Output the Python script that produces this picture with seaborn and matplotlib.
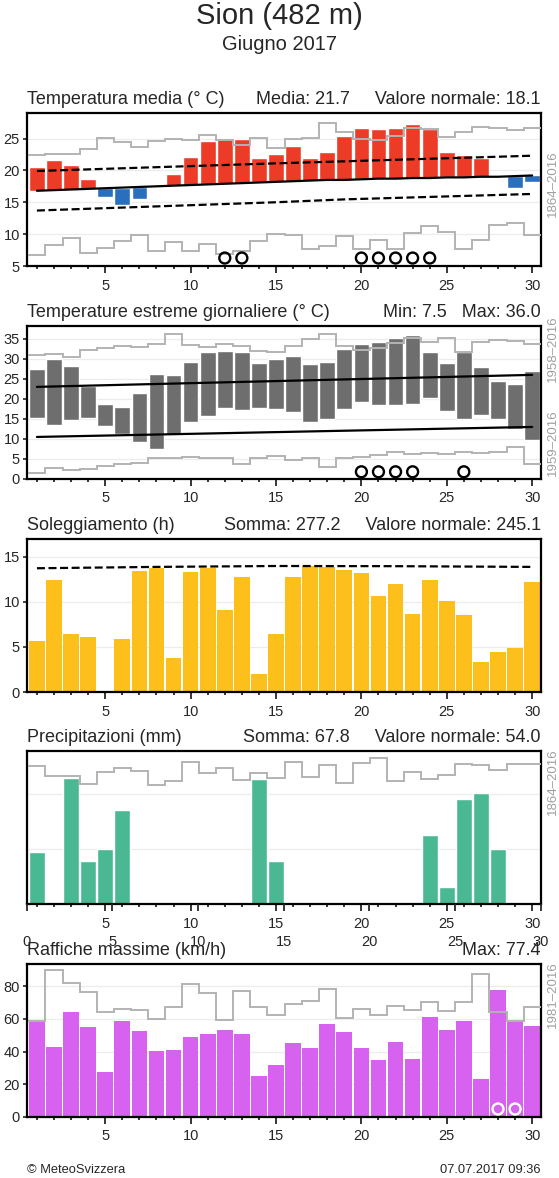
import matplotlib
matplotlib.use("Agg")
import matplotlib.pyplot as plt
import numpy as np
import seaborn as sns

days = np.arange(1, 31)
stair_edges = np.arange(0.5, 31.5)

# temperatura media (°C)
t_mean = [20.5, 21.6, 20.8, 18.6, 15.8, 14.5, 15.5, 17.5, 19.5, 22.1,
          24.6, 24.9, 25.0, 21.9, 22.5, 23.8, 21.9, 22.9, 25.4, 26.7,
          26.5, 26.7, 27.2, 26.5, 22.9, 22.4, 22.0, 19.1, 17.3, 18.1]
t_norm = [16.8, 16.9, 17.0, 17.1, 17.2, 17.3, 17.4, 17.5, 17.6, 17.7,
          17.8, 17.9, 18.0, 18.1, 18.2, 18.3, 18.4, 18.5, 18.5, 18.6,
          18.7, 18.7, 18.8, 18.8, 18.9, 18.9, 19.0, 19.0, 19.1, 19.2]
t_hi_days = [1, 15, 30]
t_hi = [19.9, 21.1, 22.3]
t_lo_days = [1, 15, 19, 30]
t_lo = [13.7, 15.0, 15.45, 16.3]
t_rec_max = [22.4, 22.5, 22.6, 23.4, 25.1, 24.5, 23.6, 24.6, 25.0, 24.8,
             25.6, 24.8, 24.0, 25.1, 23.5, 25.0, 25.1, 27.5, 26.0, 25.0,
             24.7, 25.4, 26.7, 26.5, 25.3, 26.0, 26.8, 26.6, 26.3, 26.6]
t_rec_min = [6.7, 8.3, 9.4, 7.0, 7.8, 9.0, 9.9, 7.4, 8.75, 7.3,
             8.5, 6.9, 7.3, 9.0, 10.0, 9.8, 7.7, 8.1, 9.7, 7.7,
             9.1, 7.6, 10.2, 11.2, 10.4, 7.6, 9.1, 11.5, 11.7, 9.9]
t_mean_marks = [12, 13, 20, 21, 22, 23, 24]

# temperature estreme
t_max = [27.4, 29.9, 28.3, 23.25, 18.7, 18.0, 21.4, 26.3, 26.0, 29.3,
         31.8, 31.9, 31.7, 28.9, 30.0, 30.6, 28.8, 29.25, 32.5, 33.7,
         34.3, 35.1, 36.0, 31.8, 28.9, 31.6, 28.0, 24.5, 23.7, 27.0]
t_min = [15.3, 13.4, 14.8, 15.3, 13.25, 11.3, 9.2, 7.5, 11.2, 14.3,
         15.75, 17.7, 17.2, 17.7, 17.4, 16.75, 14.3, 14.9, 17.4, 19.25,
         18.4, 18.6, 18.8, 20.25, 16.9, 15.1, 16.0, 15.0, 12.6, 9.8]
norm_days = [1, 30]
tmax_norm = [23.0, 26.0]
tmin_norm = [10.5, 13.0]
tx_rec = [30.9, 31.3, 30.5, 32.2, 32.7, 33.25, 33.0, 33.7, 36.3, 33.5,
          33.0, 33.7, 33.1, 32.0, 31.7, 33.2, 34.9, 36.3, 33.2, 32.2,
          32.7, 34.0, 35.3, 34.3, 35.2, 31.8, 34.3, 34.75, 34.5, 33.8]
tn_rec = [1.4, 2.7, 2.25, 2.6, 3.25, 3.7, 4.1, 5.2, 5.3, 5.5,
          5.3, 5.3, 3.8, 5.2, 5.8, 4.7, 5.3, 3.0, 5.3, 5.5,
          6.0, 6.75, 6.3, 6.6, 6.3, 6.8, 6.4, 6.75, 8.1, 3.8]
t_ext_marks = [20, 21, 22, 23, 26]

# soleggiamento (h)
sun = [5.7, 12.4, 6.5, 6.1, 0.0, 5.9, 13.4, 13.75, 3.75, 13.3,
       13.75, 9.1, 12.75, 1.95, 6.5, 12.8, 14.05, 13.9, 13.5, 13.2,
       10.7, 12.0, 8.7, 12.4, 10.15, 8.55, 3.3, 4.45, 4.85, 12.2]
sun_max_days = [1, 8, 15, 22, 30]
sun_max = [13.75, 13.9, 14.0, 13.98, 13.9]

# precipitazioni (mm)
rain = [0.9, 0, 19.4, 0.6, 1.0, 5.2, 0, 0, 0, 0,
        0, 0, 0, 18.8, 0.6, 0, 0, 0, 0, 0,
        0, 0, 0, 1.8, 0.2, 8.0, 10.5, 1.0, 0, 0]
rain_rec = [32.7, 21.3, 21.3, 15.1, 25.2, 30.0, 26.0, 14.9, 17.7, 38.7,
            24.2, 30.4, 18.2, 24.2, 19.7, 37.7, 20.3, 33.6, 15.8, 37.2,
            46.0, 17.4, 25.2, 19.0, 22.5, 36.1, 33.6, 27.9, 35.1, 35.1]

# raffiche massime (km/h)
gust = [58.6, 42.8, 64.3, 54.9, 27.7, 58.6, 52.9, 40.2, 40.8, 49.0,
        51.0, 53.3, 50.6, 25.0, 31.6, 45.5, 42.4, 57.2, 51.8, 42.0,
        35.0, 45.9, 35.5, 60.9, 53.1, 59.0, 23.2, 77.4, 58.8, 55.5]
gust_rec = [58.6, 90.0, 82.0, 76.6, 64.1, 65.8, 65.4, 60.2, 67.0, 81.1,
            76.0, 59.6, 77.0, 67.2, 62.7, 68.9, 71.1, 78.3, 60.7, 65.8,
            62.7, 68.0, 65.2, 70.5, 64.8, 70.5, 87.3, 64.3, 58.8, 67.4]
gust_marks = [28, 29]

RED = "#ec3b26"
BLUE = "#2a6fbd"
DARK = "#6e6e6e"
YELLOW = "#fcbf1c"
GREEN = "#4bb894"
MAGENTA = "#d862f0"
REC = "#b3b3b3"

sns.set_style("ticks")
plt.rcParams["font.family"] = ["Liberation Sans", "DejaVu Sans"]

W, H = 559, 1178
fig = plt.figure(figsize=(W / 100, H / 100), dpi=100)
left, right = 26.7, 540.7
tops = [113, 326, 539, 751, 964]
ph = 153
axes = [fig.add_axes([left / W, 1 - (t + ph) / H, (right - left) / W, ph / H]) for t in tops]

dash = (0, (3.6, 1.6))


def style(ax, yticks, ylim):
    ax.set_xlim(0.4, 30.5)
    ax.set_ylim(*ylim)
    ax.set_xticks([5, 10, 15, 20, 25, 30])
    ax.set_xticks([d for d in days if d % 5], minor=True)
    ax.set_yticks(yticks)
    ax.tick_params(axis="x", which="major", length=5, width=1.3, pad=4, labelsize=10.5, direction="out")
    ax.tick_params(axis="x", which="minor", length=2.5, width=1.3, direction="out")
    ax.tick_params(axis="y", length=3, width=1.2, pad=2, labelsize=10.5, direction="out")
    ax.grid(axis="y", color="#ececec", lw=0.9)
    ax.set_axisbelow(True)
    for s in ax.spines.values():
        s.set_visible(True)
        s.set_linewidth(1.6)
        s.set_color("black")
    ax.set_xlabel("")
    ax.set_ylabel("")


def titles(ax, left_txt, right_txt):
    ax.text(0, 1.059, left_txt, transform=ax.transAxes, ha="left", va="baseline", fontsize=13)
    ax.text(1, 1.059, right_txt, transform=ax.transAxes, ha="right", va="baseline", fontsize=13)


def side_label(ax, y, txt):
    ax.text(1.024, y, txt, transform=ax.transAxes, rotation=90, ha="center", va="center",
            color="#a0a0a0", fontsize=9.5)


# 1 - temperatura media
ax = axes[0]
diff = np.array(t_mean) - np.array(t_norm)
cols = [RED if d >= 0 else BLUE for d in diff]
ax.bar(days, diff, bottom=t_norm, width=0.92, color=cols, zorder=2)
ax.stairs(t_rec_max, stair_edges, color=REC, lw=1.4, baseline=None, zorder=3)
ax.stairs(t_rec_min, stair_edges, color=REC, lw=1.4, baseline=None, zorder=3)
sns.lineplot(x=days, y=t_norm, ax=ax, color="black", lw=1.6, zorder=4)
sns.lineplot(x=t_hi_days, y=t_hi, ax=ax, color="black", lw=1.6, linestyle=dash, zorder=4)
sns.lineplot(x=t_lo_days, y=t_lo, ax=ax, color="black", lw=1.6, linestyle=dash, zorder=4)
ax.scatter(t_mean_marks, [6.25] * len(t_mean_marks), s=62, facecolors="none",
           edgecolors="black", linewidths=1.7, zorder=5, clip_on=False)
style(ax, [5, 10, 15, 20, 25], (5, 29))
titles(ax, "Temperatura media (° C)", "Media: 21.7     Valore normale: 18.1")
side_label(ax, 0.54, "1864–2016")

# 2 - temperature estreme
ax = axes[1]
ax.bar(days, np.array(t_max) - np.array(t_min), bottom=t_min, width=0.92, color=DARK, zorder=2)
ax.stairs(tx_rec, stair_edges, color=REC, lw=1.4, baseline=None, zorder=3)
ax.stairs(tn_rec, stair_edges, color=REC, lw=1.4, baseline=None, zorder=3)
sns.lineplot(x=norm_days, y=tmax_norm, ax=ax, color="black", lw=1.6, zorder=4)
sns.lineplot(x=norm_days, y=tmin_norm, ax=ax, color="black", lw=1.6, zorder=4)
ax.scatter(t_ext_marks, [1.8] * len(t_ext_marks), s=62, facecolors="none",
           edgecolors="black", linewidths=1.7, zorder=5, clip_on=False)
style(ax, [0, 5, 10, 15, 20, 25, 30, 35], (0, 38.2))
titles(ax, "Temperature estreme giornaliere (° C)", "Min: 7.5   Max: 36.0")
side_label(ax, 0.85, "1958–2016")
side_label(ax, 0.24, "1959–2016")

# 3 - soleggiamento
ax = axes[2]
sns.barplot(x=days, y=sun, ax=ax, native_scale=True, color=YELLOW, saturation=1,
            width=0.92, errorbar=None, linewidth=0, zorder=2)
sns.lineplot(x=sun_max_days, y=sun_max, ax=ax, color="black", lw=1.6, linestyle=dash, zorder=4)
style(ax, [0, 5, 10, 15], (0, 17))
titles(ax, "Soleggiamento (h)", "Somma: 277.2     Valore normale: 245.1")

# 4 - precipitazioni
ax = axes[3]
ax.set_yscale("log")
ax.bar(days, rain, width=0.92, color=GREEN, zorder=2)
ax.stairs(rain_rec, stair_edges, color=REC, lw=1.4, baseline=None, zorder=3)
style(ax, [1, 10], (0.1, 61))
ax.yaxis.set_minor_locator(matplotlib.ticker.NullLocator())
ax.set_yticklabels([])
ax.tick_params(axis="y", length=0)
titles(ax, "Precipitazioni (mm)", "Somma: 67.8     Valore normale: 54.0")
side_label(ax, 0.80, "1864–2016")
# second day axis drawn under the first one, as in the original
ax4b = ax.twiny()
ax4b.set_xlim(0, 30)
ax4b.set_xticks(range(0, 31, 5))
ax4b.xaxis.set_ticks_position("bottom")
ax4b.xaxis.set_label_position("bottom")
ax4b.tick_params(axis="x", length=5, width=1.3, pad=17, labelsize=10.5, direction="out")
for s in ax4b.spines.values():
    s.set_visible(False)

# 5 - raffiche massime
ax = axes[4]
sns.barplot(x=days, y=gust, ax=ax, native_scale=True, color=MAGENTA, saturation=1,
            width=0.92, errorbar=None, linewidth=0, zorder=2)
ax.stairs(gust_rec, stair_edges, color=REC, lw=1.4, baseline=None, zorder=3)
ax.scatter(gust_marks, [4.9] * len(gust_marks), s=62, facecolors="none",
           edgecolors="white", linewidths=1.7, zorder=5)
style(ax, [0, 20, 40, 60, 80], (0, 93.6))
titles(ax, "Raffiche massime (km/h)", "Max: 77.4")
side_label(ax, 0.80, "1981–2016")

fig.text(0.5, 1 - 16 / H, "Sion (482 m)", ha="center", va="center", fontsize=21)
fig.text(0.5, 1 - 44 / H, "Giugno 2017", ha="center", va="center", fontsize=14.5)
fig.text(left / W, 1 - 1170 / H, "© MeteoSvizzera", ha="left", va="center", fontsize=9.3)
fig.text(right / W, 1 - 1170 / H, "07.07.2017 09:36", ha="right", va="center", fontsize=9.3)

fig.savefig("out.png", dpi=100)
